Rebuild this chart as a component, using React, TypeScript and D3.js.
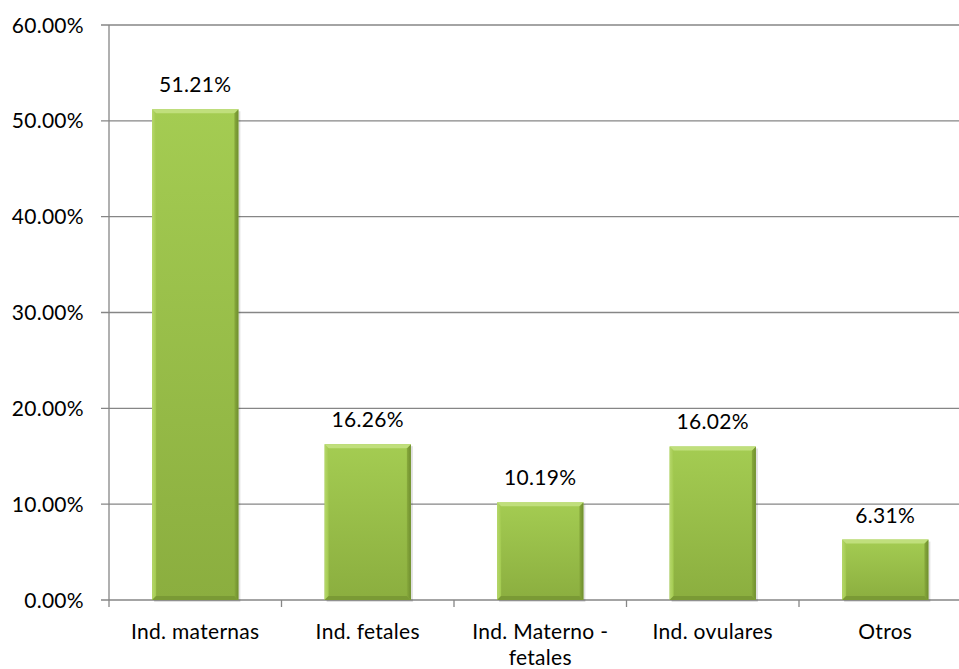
import React from "react";
import * as d3 from "d3";

const categories: string[][] = [["Ind. maternas"], ["Ind. fetales"], ["Ind. Materno -", "fetales"], ["Ind. ovulares"], ["Otros"]];
const values: number[] = [51.21, 16.26, 10.19, 16.02, 6.31];
const yTicks: number[] = [0, 10, 20, 30, 40, 50, 60];

const W = 959, H = 669;
const FONT = "Lato, 'Open Sans', 'Liberation Sans', sans-serif";
const FS = 21;

export default function App() {
  const x = d3.scaleBand<number>().domain(d3.range(values.length)).range([109, 971.5]).paddingInner(0.5).paddingOuter(0.25);
  const y = d3.scaleLinear().domain([0, 60]).range([600, 25]);
  const outer = d3.scaleBand<number>().domain(d3.range(values.length)).range([109, 971.5]);
  const bw = x.bandwidth();
  const e = 4;
  return (
    <svg width={W} height={H} style={{ position: "absolute", left: 0, top: 0 }}>
      <defs>
        <linearGradient id="body" x1="0" y1="0" x2="0" y2="1">
          <stop offset="0" stopColor="#a4cc52" />
          <stop offset="1" stopColor="#8bae3f" />
        </linearGradient>
        <linearGradient id="left" x1="0" y1="0" x2="1" y2="0">
          <stop offset="0" stopColor="#b6d86b" />
          <stop offset="1" stopColor="#a2c94f" />
        </linearGradient>
        <linearGradient id="right" x1="0" y1="0" x2="1" y2="0">
          <stop offset="0" stopColor="#88aa3c" />
          <stop offset="1" stopColor="#6f8e2f" />
        </linearGradient>
      </defs>
      <rect width={W} height={H} fill="#fff" />
      {yTicks.map((t) => (
        <g key={t}>
          <line x1={101} x2={W} y1={y(t)} y2={y(t)} stroke="#868686" strokeWidth={1.3} />
          <text x={84} y={y(t)} dy="0.36em" textAnchor="end" fontFamily={FONT} fontSize={FS} letterSpacing={0.3} fill="#000">
            {t.toFixed(2)}%
          </text>
        </g>
      ))}
      <line x1={109} x2={109} y1={y(60)} y2={y(0)} stroke="#868686" strokeWidth={1.3} />
      {d3.range(values.length + 1).map((i) => {
        const xx = i < values.length ? outer(i)! : 971.5;
        return <line key={i} x1={xx} x2={xx} y1={600} y2={607} stroke="#868686" strokeWidth={1.3} />;
      })}
      {values.map((v, i) => {
        const x0 = x(i)!;
        const y0 = y(v);
        const y1 = y(0);
        const h = y1 - y0;
        return (
          <g key={i}>
            <rect x={x0 + 2} y={y0 + 2} width={bw} height={h} fill="#000" opacity={0.12} />
            <rect x={x0} y={y0} width={bw} height={h} fill="url(#body)" />
            <polygon points={`${x0},${y0} ${x0 + e},${y0 + e} ${x0 + e},${y1 - e} ${x0},${y1}`} fill="url(#left)" />
            <polygon points={`${x0 + bw},${y0} ${x0 + bw - e},${y0 + e} ${x0 + bw - e},${y1 - e} ${x0 + bw},${y1}`} fill="url(#right)" />
            <polygon points={`${x0},${y0} ${x0 + bw},${y0} ${x0 + bw - e},${y0 + e} ${x0 + e},${y0 + e}`} fill="#c0df7c" />
            <polygon points={`${x0},${y1} ${x0 + bw},${y1} ${x0 + bw - e},${y1 - e} ${x0 + e},${y1 - e}`} fill="#7a9a35" />
            <text x={x0 + bw / 2} y={y0 - 17} textAnchor="middle" fontFamily={FONT} fontSize={FS} letterSpacing={0.3} fill="#000">
              {v.toFixed(2)}%
            </text>
          </g>
        );
      })}
      {categories.map((lines, i) => (
        <text key={i} x={outer(i)! + outer.bandwidth() / 2} y={639} textAnchor="middle" fontFamily={FONT} fontSize={FS} letterSpacing={0.3} fill="#000">
          {lines.map((l, j) => (
            <tspan key={j} x={outer(i)! + outer.bandwidth() / 2} dy={j === 0 ? 0 : 26}>
              {l}
            </tspan>
          ))}
        </text>
      ))}
    </svg>
  );
}
